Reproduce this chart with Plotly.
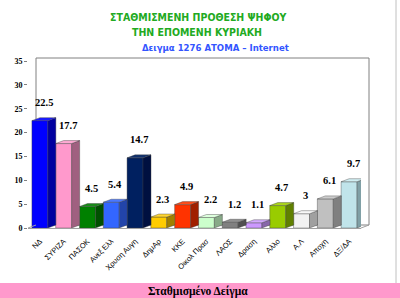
import plotly.graph_objects as go

categories = ["ΝΔ", "ΣΥΡΙΖΑ", "ΠΑΣΟΚ", "Ανεξ Ελλ", "Χρυση Αυγη", "ΔημΑρ", "ΚΚΕ",
              "Οικολ Πρασ", "ΛΑΟΣ", "Δραση", "Αλλο", "Α.Λ", "Αποχη", "ΔΞ/ΔΑ"]
values = [22.5, 17.7, 4.5, 5.4, 14.7, 2.3, 4.9, 2.2, 1.2, 1.1, 4.7, 3, 6.1, 9.7]
front_colors = ["#0000ff", "#ff99cc", "#008000", "#3366ff", "#002060", "#ffcc00", "#ff3300",
                "#ccffcc", "#808080", "#cc99ff", "#99cc00", "#f2f2f2", "#c0c0c0", "#c0e4ea"]
side_colors = ["#0000a0", "#a06080", "#005000", "#2244aa", "#001040", "#a08000", "#a02000",
               "#88aa88", "#505050", "#8866aa", "#608000", "#a0a0a0", "#808080", "#80a0a6"]
top_colors = ["#1a1aff", "#ffaad4", "#1a8a1a", "#4a78ff", "#10306e", "#ffd633", "#ff4d1a",
              "#ddffdd", "#909090", "#d4aaff", "#aad41a", "#f8f8f8", "#cccccc", "#d0eef2"]

W, H = 400, 298
L, R, T, B = 28, 361, 61, 228
YMAX = 35
n = len(categories)
bw = 0.67
px_x = (R - L) / n
px_y = (B - T) / YMAX
DXP, DYP = 8, 3
dx = DXP / px_x
dy = DYP / px_y


def pxx(p):
    return (p - L) / (R - L)


def pxy(p):
    return (B - p) / (B - T)


fig = go.Figure()
xs = list(range(n))
fig.add_trace(go.Bar(x=xs, y=values, width=bw, marker=dict(color=front_colors,
                     line=dict(color="#404040", width=0.4)), showlegend=False,
                     hoverinfo="skip"))

for i, v in enumerate(values):
    x0, x1 = i - bw / 2, i + bw / 2
    fig.add_trace(go.Scatter(
        x=[x1, x1 + dx, x1 + dx, x1, x1], y=[0, dy, v + dy, v, 0],
        fill="toself", fillcolor=side_colors[i], mode="lines",
        line=dict(color="#404040", width=0.4), showlegend=False, hoverinfo="skip"))
    fig.add_trace(go.Scatter(
        x=[x0, x0 + dx, x1 + dx, x1, x0], y=[v, v + dy, v + dy, v, v],
        fill="toself", fillcolor=top_colors[i], mode="lines",
        line=dict(color="#404040", width=0.4), showlegend=False, hoverinfo="skip"))
    fig.add_annotation(x=i + dx / 2, y=v, text=str(v), showarrow=False, yshift=18,
                       xanchor="center", yanchor="middle",
                       font=dict(family="Liberation Serif", size=10.5, color="black",
                                 weight="bold"))

# back wall and floor edges (paper-referenced so they are not clipped)
fig.add_shape(type="rect", xref="paper", yref="paper",
              x0=pxx(L + DXP), x1=pxx(R + DXP), y0=pxy(B - DYP), y1=pxy(T - DYP),
              line=dict(color="#808080", width=1), layer="below", fillcolor="white")
fig.add_shape(type="line", xref="paper", yref="paper", x0=pxx(L), y0=pxy(B),
              x1=pxx(L + DXP), y1=pxy(B - DYP), line=dict(color="#a0a0a0", width=1))
fig.add_shape(type="line", xref="paper", yref="paper", x0=pxx(R), y0=pxy(B),
              x1=pxx(R + DXP), y1=pxy(B - DYP), line=dict(color="#a0a0a0", width=1))

# title
title_font = "DejaVu Sans Condensed, Liberation Sans Narrow, Liberation Sans"
for txt, py, px, col, sz in [("ΣΤΑΘΜΙΣΜΕΝΗ ΠΡΟΘΕΣΗ ΨΗΦΟΥ", 17, 198, "#22aa22", 10.5),
                             ("ΤΗΝ ΕΠΟΜΕΝΗ ΚΥΡΙΑΚΗ", 32, 197, "#22aa22", 10.5),
                             ("Δειγμα 1276 ΑΤΟΜΑ – Internet", 48, 215, "#3355ff", 9.5)]:
    fig.add_annotation(x=pxx(px), y=pxy(py), xref="paper", yref="paper", text=txt,
                       showarrow=False, xanchor="center", yanchor="middle",
                       font=dict(family=title_font, size=sz, color=col, weight="bold"))

# bottom pink band
fig.add_shape(type="rect", xref="paper", yref="paper", x0=pxx(0), x1=pxx(W),
              y0=pxy(H), y1=pxy(283), fillcolor="#ff99cc", line=dict(width=0))
fig.add_shape(type="line", xref="paper", yref="paper", x0=pxx(396), x1=pxx(396),
              y0=pxy(0), y1=pxy(283), line=dict(color="#c0c0c0", width=1))
fig.add_annotation(x=pxx(198), y=pxy(291), xref="paper", yref="paper",
                   text="Σταθμισμένο Δείγμα", showarrow=False,
                   xanchor="center", yanchor="middle",
                   font=dict(family="Liberation Serif", size=11.5, color="black",
                             weight="bold"))

fig.update_layout(
    width=W, height=H, autosize=False,
    margin=dict(l=L, r=W - R, t=T, b=H - B),
    paper_bgcolor="white", plot_bgcolor="rgba(0,0,0,0)",
    bargap=0.33,
    xaxis=dict(range=[-0.5, n - 0.5], tickmode="array", tickvals=xs, ticktext=categories,
               tickangle=-45, showgrid=False, zeroline=False, showline=True,
               linecolor="#a0a0a0", linewidth=1, ticks="", ticklabelstandoff=5,
               automargin=False,
               tickfont=dict(family="Liberation Sans", size=7.5, color="black")),
    yaxis=dict(range=[0, YMAX], tickvals=[0, 5, 10, 15, 20, 25, 30, 35], showgrid=False,
               zeroline=False, showline=False, ticks="outside", ticklen=3,
               tickcolor="#808080", automargin=False,
               tickfont=dict(family="Liberation Serif", size=8, color="black",
                             weight="bold")),
)

fig.write_html("out.html")
